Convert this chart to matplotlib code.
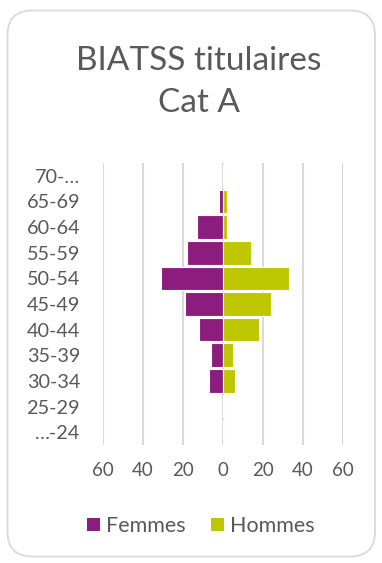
import matplotlib
matplotlib.use("Agg")
import matplotlib.pyplot as plt
from matplotlib.patches import FancyBboxPatch, Patch
import numpy as np

plt.rcParams['font.family'] = ['Lato', 'DejaVu Sans']

# Age groups, from youngest to oldest
age_groups = ["…-24", "25-29", "30-34", "35-39", "40-44", "45-49",
              "50-54", "55-59", "60-64", "65-69", "70-…"]
femmes = [0, 0, 7, 6, 12, 19, 31, 18, 13, 2, 0]
hommes = [0, 0, 6, 5, 18, 24, 33, 14, 2, 2, 0]
x_ticks = [-60, -40, -20, 0, 20, 40, 60]

col_f = "#8C1D7E"
col_h = "#BDC600"
txt = "#595959"
grid = "#D9D9D9"

W, H = 382, 563
fig = plt.figure(figsize=(W / 100, H / 100), dpi=100)

# rounded chart frame, kept behind everything else
frame = FancyBboxPatch((7.5 / W, 6.5 / H), (375 - 7.5) / W, (556 - 10) / H,
                       boxstyle="round,pad=0,rounding_size=0.065",
                       transform=fig.transFigure, facecolor="white",
                       edgecolor=grid, linewidth=1.3, mutation_aspect=W / H,
                       zorder=-10)
fig.patches.append(frame)

fig.text(199 / W, 1 - 61 / H, "BIATSS titulaires", ha="center", va="center",
         fontsize=24, color=txt)
fig.text(199 / W, 1 - 103 / H, "Cat A", ha="center", va="center",
         fontsize=24, color=txt)

left, right, top, bottom = 103, 343, 163, 445
ax = fig.add_axes([left / W, 1 - bottom / H, (right - left) / W, (bottom - top) / H])
ax.set_facecolor("none")
ax.set_zorder(5)

y = np.arange(len(age_groups))
ax.barh(y, [-v for v in femmes], height=0.92, color=col_f, edgecolor="white",
        linewidth=0.8, zorder=3)
ax.barh(y, hommes, height=0.92, color=col_h, edgecolor="white",
        linewidth=0.8, zorder=3)

ax.set_xlim(-60, 60)
ax.set_ylim(-0.5, len(age_groups) - 0.5)
ax.set_xticks(x_ticks)
ax.set_xticklabels([str(abs(v)) for v in x_ticks])
ax.set_yticks(y)
ax.set_yticklabels(age_groups)
ax.tick_params(axis="x", length=0, labelsize=13.5, labelcolor=txt, pad=12)
ax.tick_params(axis="y", length=0, labelsize=14.3, labelcolor=txt, pad=16.5)
ax.xaxis.grid(True, color=grid, linewidth=1.5, zorder=0)
ax.yaxis.grid(False)
ax.set_axisbelow(True)
for s in ax.spines.values():
    s.set_visible(False)

handles = [Patch(facecolor=col_f, label="Femmes"),
           Patch(facecolor=col_h, label="Hommes")]
fig.legend(handles=handles, loc="center", bbox_to_anchor=(201 / W, 1 - 526 / H),
           ncol=2, frameon=False, fontsize=15.5, labelcolor=txt,
           handlelength=0.6, handleheight=0.6, handletextpad=0.3,
           columnspacing=1.15, borderpad=0, borderaxespad=0)

fig.savefig("out.png", dpi=100)
